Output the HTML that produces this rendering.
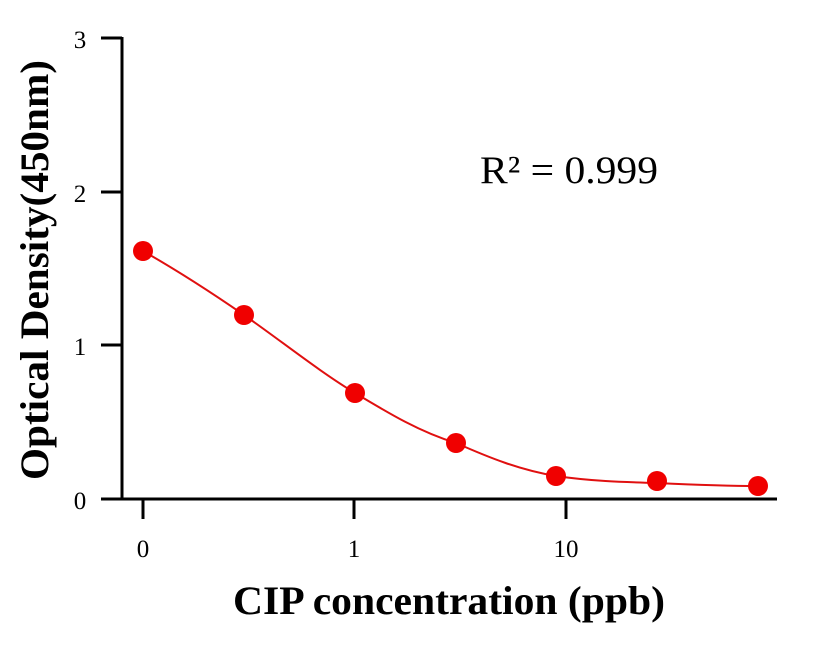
<!DOCTYPE html>
<html><head><style>body{margin:0;background:#fff}</style></head><body>
<svg width="816" height="640" xmlns="http://www.w3.org/2000/svg" font-family="Liberation Serif, serif">
<rect width="816" height="640" fill="#fff"/>
<g stroke="#000" stroke-width="3">
<line x1="122" y1="37" x2="122" y2="500"/>
<line x1="101" y1="499" x2="777" y2="499"/>
<line x1="101" y1="38" x2="122" y2="38"/>
<line x1="101" y1="192" x2="122" y2="192"/>
<line x1="101" y1="345" x2="122" y2="345"/>
<line x1="143" y1="499" x2="143" y2="519"/>
<line x1="354" y1="499" x2="354" y2="519"/>
<line x1="566" y1="499" x2="566" y2="519"/>
</g>
<g font-size="25" text-anchor="middle">
<text x="80" y="48">3</text>
<text x="80" y="202">2</text>
<text x="80" y="355">1</text>
<text x="80" y="509">0</text>
<text x="143" y="557">0</text>
<text x="354" y="557">1</text>
<text x="566" y="557">10</text>
</g>
<text x="233" y="614" font-size="40" font-weight="bold" textLength="432" lengthAdjust="spacingAndGlyphs">CIP concentration (ppb)</text>
<text transform="translate(48,480) rotate(-90)" font-size="40" font-weight="bold" textLength="420" lengthAdjust="spacingAndGlyphs">Optical Density(450nm)</text>
<text x="480" y="183" font-size="39" textLength="178" lengthAdjust="spacingAndGlyphs">R² = 0.999</text>
<path d="M143,251 C180,272 215,295 244,315 C280,340 320,372 355,393 C390,414 420,432 456,443 C490,458 520,470 556,476 C590,481 620,482 657,483 C700,485 730,486 758,486" fill="none" stroke="#e01010" stroke-width="2"/>
<g fill="#f00000">
<circle cx="143" cy="251" r="10"/>
<circle cx="244" cy="315" r="10"/>
<circle cx="355" cy="393" r="10"/>
<circle cx="456" cy="443" r="10"/>
<circle cx="556" cy="476" r="10"/>
<circle cx="657" cy="481" r="10"/>
<circle cx="758" cy="486" r="10"/>
</g>
</svg>
</body></html>
